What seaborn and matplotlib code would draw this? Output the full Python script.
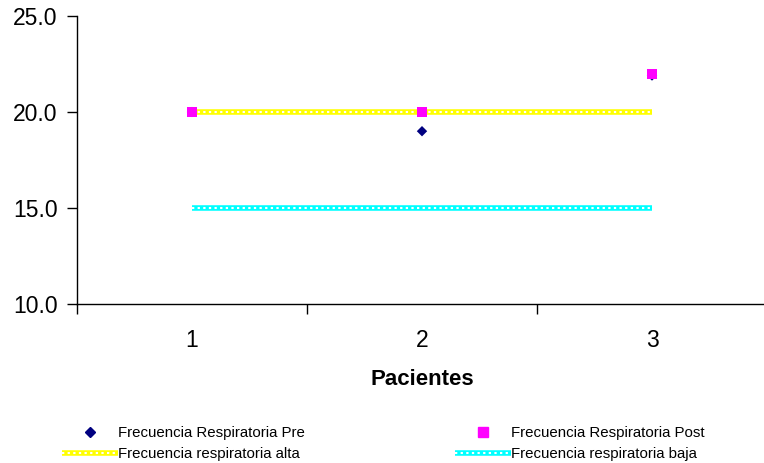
import matplotlib
matplotlib.use("Agg")
import matplotlib.pyplot as plt
import seaborn as sns
import pandas as pd
from matplotlib.lines import Line2D

pacientes = [1, 2, 3]
fr_pre = [20.0, 19.0, 21.9]
fr_post = [20.0, 20.0, 22.0]
fr_alta = [20.0, 20.0, 20.0]
fr_baja = [15.0, 15.0, 15.0]
yticks = [10.0, 15.0, 20.0, 25.0]

sns.set_style("white")
plt.rcParams['font.family'] = ['Liberation Sans', 'DejaVu Sans']
plt.rcParams['text.color'] = 'black'
plt.rcParams['xtick.color'] = 'black'
plt.rcParams['ytick.color'] = 'black'
plt.rcParams['axes.labelcolor'] = 'black'

df = pd.DataFrame({"Paciente": pacientes, "Pre": fr_pre, "Post": fr_post,
                   "Alta": fr_alta, "Baja": fr_baja})

fig = plt.figure(figsize=(7.64, 4.63), dpi=100)
ax = fig.add_axes([77/764, 1-304/463, 690/764, 288/463])

DOT = (0, (1.1, 1.6))
for col, c in [("Alta", "#FFFF00"), ("Baja", "#00FFFF")]:
    sns.lineplot(data=df, x="Paciente", y=col, ax=ax, color=c, lw=4.0, zorder=2,
                 solid_capstyle="butt")
    sns.lineplot(data=df, x="Paciente", y=col, ax=ax, color="white", lw=1.5,
                 linestyle=DOT, dash_capstyle="butt", zorder=3)
sns.scatterplot(data=df, x="Paciente", y="Pre", ax=ax, marker="D", color="#000080",
                s=28, edgecolor="none", zorder=4)
sns.scatterplot(data=df, x="Paciente", y="Post", ax=ax, marker="s", color="#FF00FF",
                s=50, edgecolor="none", zorder=5)

ax.set_xlim(0.5, 3.5)
ax.set_ylim(10, 25)
ax.set_yticks(yticks)
ax.set_yticklabels([f"{v:.1f}" for v in yticks], fontsize=16.5)
ax.set_xticks([0.5, 1.5, 2.5, 3.5])
ax.set_xticklabels([])
ax.set_xticks(pacientes, minor=True)
ax.set_xticklabels([str(p) for p in pacientes], minor=True, fontsize=16.5)
ax.tick_params(axis="x", which="minor", length=0, pad=18)
ax.tick_params(axis="x", which="major", length=7, width=1, direction="out", bottom=True)
ax.tick_params(axis="y", length=7, width=1, direction="out", left=True, pad=7)
ax.set_xlabel("Pacientes", fontsize=16, fontweight="bold", labelpad=12)
ax.set_ylabel("")
for s in ["top", "right"]:
    ax.spines[s].set_visible(False)
for s in ["left", "bottom"]:
    ax.spines[s].set_color("black")
    ax.spines[s].set_linewidth(1)

h_pre = Line2D([], [], marker="D", color="#000080", ls="none", markersize=5)
h_post = Line2D([], [], marker="s", color="#FF00FF", ls="none", markersize=6.5)
h_alta = (Line2D([], [], color="#FFFF00", lw=4.0, solid_capstyle="butt"),
          Line2D([], [], color="white", lw=1.5, ls=DOT, dash_capstyle="butt"))
h_baja = (Line2D([], [], color="#00FFFF", lw=4.0, solid_capstyle="butt"),
          Line2D([], [], color="white", lw=1.5, ls=DOT, dash_capstyle="butt"))

common = dict(loc="upper left", frameon=False, fontsize=10.8, handlelength=3.7,
              handletextpad=0.05, labelspacing=0.45, borderpad=0, borderaxespad=0)
fig.legend([h_pre, h_alta], ["Frecuencia Respiratoria Pre", "Frecuencia respiratoria alta"],
           bbox_to_anchor=(62/764, 1-426/463), **common)
fig.legend([h_post, h_baja], ["Frecuencia Respiratoria Post", "Frecuencia respiratoria baja"],
           bbox_to_anchor=(455/764, 1-426/463), **common)

fig.savefig("out.png", dpi=100)
